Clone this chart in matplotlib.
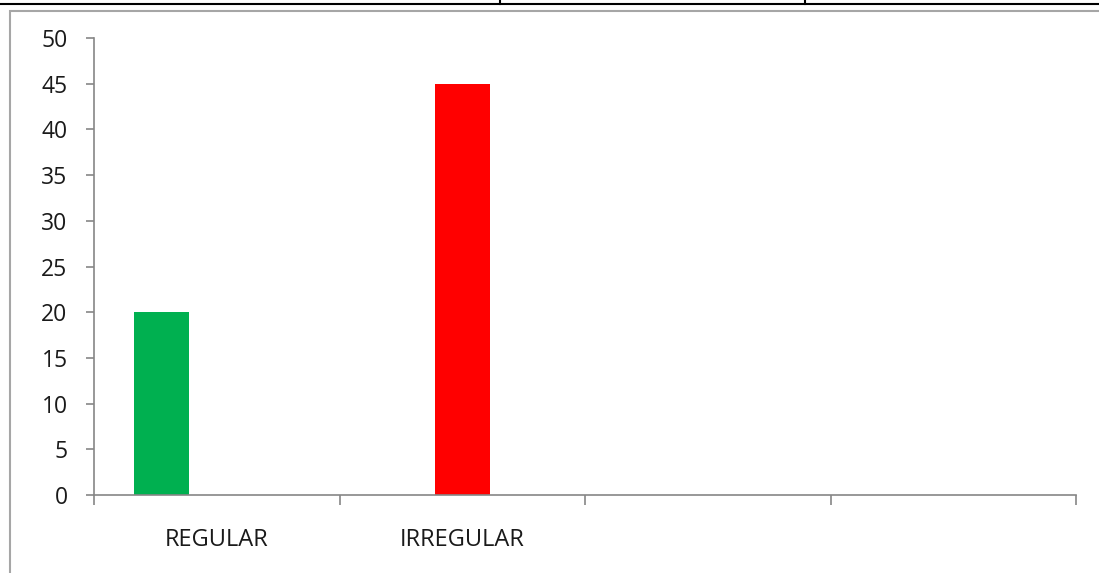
import numpy as np
import matplotlib.pyplot as plt
from matplotlib.lines import Line2D
from matplotlib.patches import Rectangle

# categories on the x axis (last two are empty in the source sheet)
categories = ["REGULAR", "IRREGULAR", "", ""]

# one series per colour, clustered bars
series_regular = [20, 0, 0, 0]
series_irregular = [0, 45, 0, 0]
series_other = [0, 0, 0, 0]

y_ticks = [0, 5, 10, 15, 20, 25, 30, 35, 40, 45, 50]

plt.rcParams['font.family'] = ['Open Sans', 'DejaVu Sans']

fig = plt.figure(figsize=(10.99, 5.73), dpi=100)
fig.patch.set_facecolor('white')

# chart frame and the bits of the surrounding document
fig.add_artist(Rectangle((10 / 1099, -0.05), 1.1, 1 - 11 / 573 + 0.05,
                         transform=fig.transFigure, fill=False,
                         edgecolor='#a6a6a6', linewidth=1.5))
fig.add_artist(Line2D([0, 1], [1 - 4 / 573, 1 - 4 / 573], transform=fig.transFigure,
                      color='black', linewidth=1.5))
for xv in (500, 805):
    fig.add_artist(Line2D([xv / 1099, xv / 1099], [1 - 4 / 573, 1], transform=fig.transFigure,
                          color='black', linewidth=1.5))

ax = fig.add_axes([94 / 1099, 78 / 573, (1076 - 94) / 1099, (495 - 38) / 573])

x = np.arange(len(categories))
width = 0.224
ax.bar(x - width, series_regular, width, color='#00b050')
ax.bar(x, series_irregular, width, color='#ff0000')
ax.bar(x + width, series_other, width, color='#4f81bd')

ax.set_xlim(-0.5, len(categories) - 0.5)
ax.set_ylim(0, 50)
ax.set_yticks(y_ticks)
ax.tick_params(axis='y', direction='out', length=6, width=1.2, color='#868686',
               labelsize=16.5, pad=13, labelcolor='#1a1a1a')

# boundaries get the tick marks, centres get the labels
ax.set_xticks(np.arange(len(categories) + 1) - 0.5)
ax.set_xticklabels([])
ax.tick_params(axis='x', which='major', direction='out', length=7, width=1.2, color='#868686')
ax.set_xticks(x, minor=True)
ax.set_xticklabels(categories, minor=True)
ax.tick_params(axis='x', which='minor', length=0, labelsize=17, pad=24, labelcolor='#1a1a1a')

for side in ('top', 'right'):
    ax.spines[side].set_visible(False)
for side in ('left', 'bottom'):
    ax.spines[side].set_color('#868686')
    ax.spines[side].set_linewidth(1.2)

fig.savefig('out.png', dpi=100)
